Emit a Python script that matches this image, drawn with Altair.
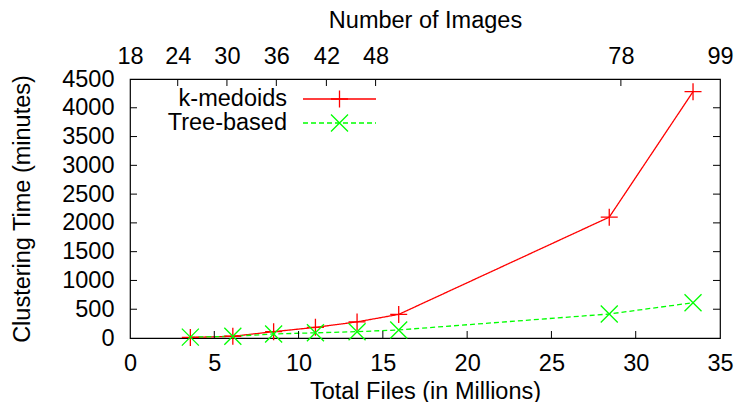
import altair as alt
import pandas as pd

# ---- data ----
files_millions = [3.58, 6.1, 8.52, 11.0, 13.47, 15.94, 28.43, 33.4]
kmedoids_minutes = [10, 30, 110, 185, 280, 410, 2100, 4280]
tree_minutes = [15, 30, 70, 90, 110, 140, 417, 613]
series_names = ["k-medoids", "Tree-based"]
series_colors = ["#ff0000", "#00ff00"]

x_tick_values = [0, 5, 10, 15, 20, 25, 30, 35]
y_tick_values = [0, 500, 1000, 1500, 2000, 2500, 3000, 3500, 4000, 4500]
image_labels = ["18", "24", "30", "36", "42", "48", "78", "99"]
image_positions = [0, 2.83, 5.75, 8.68, 11.65, 14.57, 29.12, 35]

# ---- layout / style ----
W, H = 590, 259
FONT = "Liberation Sans"
FS = 23.5
TICK = 7
PLUS = "M-1,0L1,0M0,-1L0,1"
CROSS = "M-1,-1L1,1M-1,1L1,-1"
shapes = [PLUS, CROSS]
dashes = [[1, 0], [5, 3]]

rows = []
for name, vals in zip(series_names, [kmedoids_minutes, tree_minutes]):
    for f, v in zip(files_millions, vals):
        rows.append({"series": name, "files": f, "minutes": v})
df = pd.DataFrame(rows)

xs = alt.Scale(domain=[0, 35], nice=False, zero=False)
ys = alt.Scale(domain=[0, 4500], nice=False)

x_axis = alt.Axis(values=x_tick_values, ticks=False, domain=False, grid=False, format="d",
                  labelPadding=32, labelBaseline="alphabetic", labelFlush=False,
                  labelOverlap=False, title="Total Files (in Millions)",
                  titleY=60, titleBaseline="alphabetic")
y_axis = alt.Axis(values=y_tick_values, ticks=False, domain=False, grid=False, format="d",
                  labelPadding=16, labelFlush=False, labelOverlap=False,
                  title="Clustering Time (minutes)", titleX=-101, titleY=H / 2,
                  titleBaseline="alphabetic")

color = alt.Color("series:N", scale=alt.Scale(domain=series_names, range=series_colors), legend=None)

lines = alt.Chart(df).mark_line(strokeWidth=1.3).encode(
    x=alt.X("files:Q", scale=xs, axis=x_axis),
    y=alt.Y("minutes:Q", scale=ys, axis=y_axis),
    color=color,
    strokeDash=alt.StrokeDash("series:N", scale=alt.Scale(domain=series_names, range=dashes), legend=None),
    detail="series:N",
)

points = alt.Chart(df).mark_point(filled=False, size=289, strokeWidth=1.3, opacity=1).encode(
    x=alt.X("files:Q", scale=xs, axis=x_axis),
    y=alt.Y("minutes:Q", scale=ys, axis=y_axis),
    color=color,
    shape=alt.Shape("series:N", scale=alt.Scale(domain=series_names, range=shapes), legend=None),
)

# inward ticks (gnuplot style)
ytick_df = pd.DataFrame({"v": y_tick_values[1:-1]})
xtick_df = pd.DataFrame({"v": x_tick_values[1:-1]})
left_ticks = alt.Chart(ytick_df).mark_rule(color="black", strokeWidth=1).encode(
    y=alt.Y("v:Q", scale=ys, axis=y_axis), x=alt.value(0), x2=alt.value(TICK))
right_ticks = alt.Chart(ytick_df).mark_rule(color="black", strokeWidth=1).encode(
    y=alt.Y("v:Q", scale=ys, axis=y_axis), x=alt.value(W - TICK), x2=alt.value(W))
bottom_ticks = alt.Chart(xtick_df).mark_rule(color="black", strokeWidth=1).encode(
    x=alt.X("v:Q", scale=xs, axis=x_axis), y=alt.value(H - TICK), y2=alt.value(H))

# legend (gnuplot style: text left, sample right)
legend_layers = []
for i, name in enumerate(series_names):
    ly = 20 + 24 * i
    ldf = pd.DataFrame({"label": [name]})
    legend_layers.append(alt.Chart(ldf).mark_text(align="right", baseline="middle", font=FONT,
                                                  fontSize=FS, color="black").encode(
        text="label:N", x=alt.value(157), y=alt.value(ly)))
    legend_layers.append(alt.Chart(ldf).mark_rule(color=series_colors[i], strokeWidth=1.3,
                                                  strokeDash=dashes[i]).encode(
        x=alt.value(173), x2=alt.value(246), y=alt.value(ly)))
    legend_layers.append(alt.Chart(ldf).mark_point(shape=shapes[i], size=289, filled=False,
                                                   strokeWidth=1.3, color=series_colors[i],
                                                   opacity=1).encode(
        x=alt.value(209.5), y=alt.value(ly)))

main = alt.layer(lines, points, left_ticks, right_ticks, bottom_ticks, *legend_layers)

# top axis: Number of Images
expr_parts = [f"datum.value == {p} ? '{l}'" for p, l in zip(image_positions, image_labels)]
label_expr = " : ".join(expr_parts) + " : ''"
top_df = pd.DataFrame({"pos": image_positions[1:-1]})
top = alt.Chart(top_df).mark_rule(color="black", strokeWidth=1).encode(
    x=alt.X("pos:Q", scale=alt.Scale(domain=[0, 35], nice=False, zero=False),
            axis=alt.Axis(orient="top", values=image_positions, labelExpr=label_expr,
                          ticks=False, domain=False, grid=False, labelPadding=15.5,
                          labelBaseline="alphabetic", labelFlush=False, labelOverlap=False,
                          title="Number of Images", titleY=-52, titleBaseline="alphabetic")),
    y=alt.value(0), y2=alt.value(TICK),
)

chart = alt.layer(main, top).resolve_scale(x="independent").properties(
    width=W, height=H,
    autosize=alt.AutoSizeParams(type="none"),
    padding={"left": 122, "top": 71, "right": 14, "bottom": 64},
    background="white",
).configure_view(stroke="black", strokeWidth=1.2).configure_axis(
    labelFont=FONT, labelFontSize=FS, labelColor="black",
    titleFont=FONT, titleFontSize=FS, titleColor="black", titleFontWeight="normal",
)

chart.save("out.html", embed_options={"renderer": "svg", "actions": False})
